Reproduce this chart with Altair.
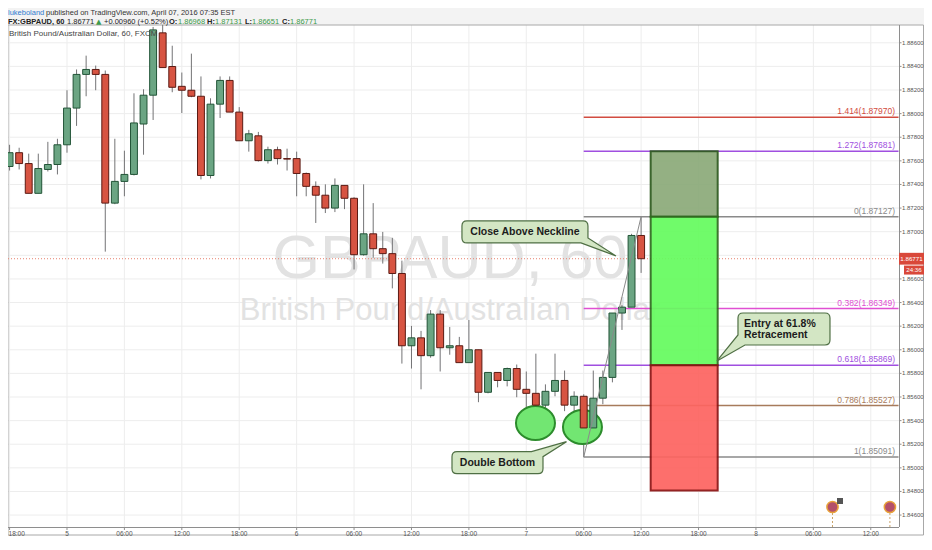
import altair as alt
import pandas as pd

# ---------------- data (hourly candles, index 0 = Apr 4 18:00) ----------------
opens = [1.87552, 1.87669, 1.87577, 1.87325, 1.87527, 1.87569, 1.87736, 1.88047, 1.88332, 1.88374,
         1.88332, 1.87242, 1.87426, 1.87485, 1.87912, 1.88156, 1.88684, 1.88399, 1.88231, 1.88198,
         1.88147, 1.87476, 1.88080, 1.88281, 1.88013, 1.87770, 1.87812, 1.87602, 1.87694, 1.87619,
         1.87619, 1.87493, 1.87384, 1.87309, 1.87200, 1.87392, 1.87283, 1.86805, 1.86982, 1.86856,
         1.86814, 1.86646, 1.86034, 1.86101, 1.85950, 1.86302, 1.86017, 1.86034, 1.85891, 1.86000,
         1.85640, 1.85808, 1.85740, 1.85841, 1.85665, 1.85631, 1.85531, 1.85648, 1.85740, 1.85531,
         1.85606, 1.85338, 1.85590, 1.85766, 1.86311, 1.86361, 1.86968]
highs = [1.87736, 1.87711, 1.87661, 1.87661, 1.87761, 1.87787, 1.88198, 1.88374, 1.88491, 1.88407,
         1.88365, 1.87787, 1.87686, 1.88172, 1.88206, 1.88734, 1.88751, 1.88575, 1.88348, 1.88508,
         1.88315, 1.88130, 1.88315, 1.88315, 1.88055, 1.87862, 1.87845, 1.87720, 1.87720, 1.87703,
         1.87678, 1.87501, 1.87426, 1.87401, 1.87451, 1.87392, 1.87292, 1.87401, 1.87242, 1.86998,
         1.86948, 1.86755, 1.86202, 1.86160, 1.86336, 1.86336, 1.86193, 1.86109, 1.86252, 1.86000,
         1.85808, 1.85808, 1.85849, 1.85875, 1.85816, 1.85967, 1.85707, 1.85967, 1.85824, 1.85648,
         1.85623, 1.85824, 1.85824, 1.86311, 1.86378, 1.86982, 1.87131]
lows = [1.87518, 1.87527, 1.87325, 1.87325, 1.87510, 1.87485, 1.87669, 1.87896, 1.88147, 1.88198,
        1.86831, 1.87233, 1.87300, 1.87476, 1.87652, 1.87946, 1.88390, 1.88181, 1.88005, 1.88139,
        1.87443, 1.87451, 1.87963, 1.88013, 1.87770, 1.87678, 1.87594, 1.87577, 1.87569, 1.87518,
        1.87300, 1.87300, 1.87074, 1.87158, 1.87166, 1.87191, 1.86680, 1.86797, 1.86780, 1.86730,
        1.86520, 1.85883, 1.85841, 1.85665, 1.85933, 1.85816, 1.85958, 1.85891, 1.85891, 1.85556,
        1.85631, 1.85682, 1.85690, 1.85598, 1.85397, 1.85397, 1.85430, 1.85606, 1.85480, 1.85262,
        1.85091, 1.85338, 1.85539, 1.85724, 1.86168, 1.86361, 1.86651]
closes = [1.87669, 1.87577, 1.87325, 1.87535, 1.87569, 1.87736, 1.88047, 1.88332, 1.88374, 1.88332,
          1.87242, 1.87426, 1.87485, 1.87921, 1.88156, 1.88709, 1.88390, 1.88223, 1.88198, 1.88147,
          1.87476, 1.88080, 1.88281, 1.88013, 1.87770, 1.87829, 1.87602, 1.87694, 1.87619, 1.87615,
          1.87493, 1.87384, 1.87309, 1.87200, 1.87392, 1.87283, 1.86805, 1.86982, 1.86856, 1.86814,
          1.86646, 1.86034, 1.86101, 1.85950, 1.86302, 1.86017, 1.86034, 1.85891, 1.86000, 1.85640,
          1.85808, 1.85740, 1.85841, 1.85665, 1.85631, 1.85531, 1.85648, 1.85740, 1.85531, 1.85606,
          1.85338, 1.85590, 1.85766, 1.86311, 1.86361, 1.86968, 1.86771]

tick_labels = ["18:00", "5", "06:00", "12:00", "18:00", "6", "06:00", "12:00",
               "18:00", "7", "06:00", "12:00", "18:00", "8", "06:00", "12:00"]
price_ticks = [1.846, 1.848, 1.850, 1.852, 1.854, 1.856, 1.858, 1.860, 1.862, 1.864,
               1.866, 1.868, 1.870, 1.872, 1.874, 1.876, 1.878, 1.880, 1.882, 1.884, 1.886]

fib_levels = ["1.414", "1.272", "0", "0.382", "0.618", "0.786", "1"]
fib_prices = [1.87970, 1.87681, 1.87127, 1.86349, 1.85869, 1.85527, 1.85091]
fib_colors = ["#d24c40", "#a04fe0", "#8a8a8a", "#e04fd2", "#a04fe0", "#a77b5c", "#8a8a8a"]
fib_start = 60
fib_end = 92.9

trend_i = [60, 66]
trend_p = [1.85091, 1.87127]

zone_top = [1.87681, 1.87127, 1.85869]
zone_bottom = [1.87127, 1.85869, 1.84808]
zone_fill = ["#8cab7a", "#66fb5f", "#fd6561"]
zone_stroke = ["#2d5a1e", "#2f6b1f", "#8c1313"]
zone_start, zone_end = 67, 74

ellipse_i = [54.96, 59.87]
ellipse_p = [1.85380, 1.85346]

callout_text = ["Close Above Neckline", "Entry at 61.8%", "Retracement", "Double Bottom"]
callout_i = [53.86, 80.93, 50.99]
callout_p = [1.86998, 1.86176, 1.85044]

event_i = [86, 92]
last_price = closes[-1]

# ---------------- scales / layout ----------------
W, H = 891, 502
xs = alt.Scale(domain=[-0.165, 92.95], nice=False, zero=False)
ys = alt.Scale(domain=[1.84499, 1.887505], nice=False, zero=False)
FONT = "Liberation Sans"
AX = "#8e8e8e"

one = pd.DataFrame({"k": [0]})
cd = pd.DataFrame({"i": list(range(len(opens))), "o": opens, "h": highs, "l": lows, "c": closes})
up = "datum.c >= datum.o"


def X(f):
    return alt.X(f, scale=xs, axis=None)


def Y(f):
    return alt.Y(f, scale=ys, axis=None)


def ptext(txt, x, y, **kw):
    kw.setdefault("font", FONT)
    kw.setdefault("align", "left")
    kw.setdefault("baseline", "middle")
    return alt.Chart(one).mark_text(text=txt, **kw).encode(x=alt.value(x), y=alt.value(y))


def prect(x, x2, y, y2, **kw):
    return alt.Chart(one).mark_rect(**kw).encode(
        x=alt.value(x), x2=alt.value(x2), y=alt.value(y), y2=alt.value(y2))


# ---------------- grid + axes drawn through the scales ----------------
xt = pd.DataFrame({"t": [6 * k for k in range(len(tick_labels))], "lab": tick_labels})
yt = pd.DataFrame({"p": price_ticks, "lab": [f"{p:.5f}" for p in price_ticks]})

vgrid = alt.Chart(xt).mark_rule(color="#ededed", strokeWidth=1).encode(
    x=X("t:Q"), y=alt.value(0), y2=alt.value(H))
hgrid = alt.Chart(yt).mark_rule(color="#ededed", strokeWidth=1).encode(
    y=Y("p:Q"), x=alt.value(0), x2=alt.value(W))

x_dom = alt.Chart(one).mark_rule(color=AX, strokeWidth=1).encode(
    x=alt.value(0), x2=alt.value(W), y=alt.value(H + 0.5))
y_dom = alt.Chart(one).mark_rule(color=AX, strokeWidth=1).encode(
    x=alt.value(W + 0.5), y=alt.value(0), y2=alt.value(H))
x_ticks = alt.Chart(xt).mark_rule(color=AX, strokeWidth=1).encode(
    x=X("t:Q"), y=alt.value(H), y2=alt.value(H + 3))
y_ticks = alt.Chart(yt).mark_rule(color=AX, strokeWidth=1).encode(
    y=Y("p:Q"), x=alt.value(W), x2=alt.value(W + 2.5))
xl_style = dict(font=FONT, fontSize=6.5, color="#555555", baseline="middle")
x_labels = alt.Chart(xt).transform_filter("datum.t > 0").mark_text(
    align="center", **xl_style).encode(x=X("t:Q"), y=alt.value(H + 6.5), text="lab:N")
x_label0 = alt.Chart(xt).transform_filter("datum.t == 0").mark_text(
    align="left", dx=-1, **xl_style).encode(x=X("t:Q"), y=alt.value(H + 6.5), text="lab:N")
y_labels = alt.Chart(yt).transform_filter(
    f"abs(datum.p - {last_price}) > 0.0012"
).mark_text(font=FONT, fontSize=6, color="#555555", align="left", baseline="middle").encode(
    y=Y("p:Q"), x=alt.value(W + 3), text="lab:N")

# bands outside the chart frame
band = prect(-2, 920, -20, 0, fill="#f3f3f3")
frame = prect(0, 915.5, 0, 510, fill="transparent", stroke="#a8a8a8", strokeWidth=1)

# watermark
wm1 = ptext("GBPAUD, 60", 442, 253, align="center", baseline="alphabetic", fontSize=61,
            color="#e2e2e2")
wm2 = ptext("British Pound/Australian Dollar", 442, 295, align="center", baseline="alphabetic",
            fontSize=31, color="#e2e2e2")

wicks = alt.Chart(cd).mark_rule(color="#737375", strokeWidth=1).encode(
    x=X("i:Q"), y=Y("h:Q"), y2="l:Q")

bodies = alt.Chart(cd).transform_calculate(
    xl="datum.i - 0.36", xr="datum.i + 0.36"
).mark_rect(strokeWidth=1).encode(
    x=X("xl:Q"), x2="xr:Q", y=Y("o:Q"), y2="c:Q",
    fill=alt.condition(up, alt.value("#6ba583"), alt.value("#d75442")),
    stroke=alt.condition(up, alt.value("#225437"), alt.value("#5b1a13")))

# current price dotted line
price_line = alt.Chart(pd.DataFrame({"p": [last_price]})).mark_rule(
    color="#e8826f", strokeDash=[1, 2], strokeWidth=1).encode(
    x=alt.value(0), x2=alt.value(W), y=Y("p:Q"))

# fibonacci
fd = pd.DataFrame({"lvl": fib_levels, "p": fib_prices, "col": fib_colors})
fd["s"] = fib_start
fd["e"] = fib_end
fd["lab"] = [f"{a}({b:.5f})" for a, b in zip(fib_levels, fib_prices)]
fib_lines = alt.Chart(fd).mark_rule(strokeWidth=1.5).encode(
    x=X("s:Q"), x2="e:Q", y=Y("p:Q"), color=alt.Color("col:N", scale=None))
fib_labels = alt.Chart(fd).mark_text(align="right", baseline="bottom", dy=-1, fontSize=8.5,
                                     font=FONT).encode(
    x=alt.value(887), y=Y("p:Q"), text="lab:N", color=alt.Color("col:N", scale=None))

trend = alt.Chart(pd.DataFrame({"i": trend_i, "p": trend_p})).mark_line(
    color="#8a8a8a", strokeWidth=1).encode(x=X("i:Q"), y=Y("p:Q"))

zd = pd.DataFrame({"t": zone_top, "b": zone_bottom, "f": zone_fill, "s": zone_stroke})
zd["x0"] = zone_start
zd["x1"] = zone_end
zones = alt.Chart(zd).mark_rect(strokeWidth=2, opacity=0.93).encode(
    x=X("x0:Q"), x2="x1:Q", y=Y("t:Q"), y2="b:Q",
    fill=alt.Color("f:N", scale=None), stroke=alt.Color("s:N", scale=None))

ELLIPSE = "M -19.5 0 A 19.5 17 0 1 0 19.5 0 A 19.5 17 0 1 0 -19.5 0 Z"
ellipses = alt.Chart(pd.DataFrame({"i": ellipse_i, "p": ellipse_p})).mark_point(
    shape=ELLIPSE, size=4, filled=True, fill="#72e672", stroke="#2c8c2c", strokeWidth=2,
    opacity=1).encode(x=X("i:Q"), y=Y("p:Q"))

CALLOUT_PATHS = [
    "M -58 -11 L 58 -11 Q 63 -11 63 -6 L 63 6 L 91 24 L 56 11 L -58 11 Q -63 11 -63 6 "
    "L -63 -6 Q -63 -11 -58 -11 Z",
    "M -41 -16 L 41 -16 Q 46 -16 46 -11 L 46 11 Q 46 16 41 16 L -39 16 L -67 32 L -46 6 "
    "L -46 -11 Q -46 -16 -41 -16 Z",
    "M -40.5 -11 L 34 -11 L 69 -21 L 45.5 -6 L 45.5 6 Q 45.5 11 40.5 11 L -40.5 11 "
    "Q -45.5 11 -45.5 6 L -45.5 -6 Q -45.5 -11 -40.5 -11 Z",
]
callouts = []
for k, path in enumerate(CALLOUT_PATHS):
    d = pd.DataFrame({"i": [callout_i[k]], "p": [callout_p[k]]})
    enc = dict(x=X("i:Q"), y=Y("p:Q"))
    callouts.append(alt.Chart(d).mark_point(
        shape=path, size=4, filled=True, fill="#d3e6c4", stroke="#4f6f44", strokeWidth=1.2,
        opacity=1).encode(**enc))
    tstyle = dict(font=FONT, fontSize=10.5, fontWeight="bold", color="#1c1c1c", baseline="middle")
    if k == 1:
        callouts.append(alt.Chart(d).mark_text(text=callout_text[1], align="left", dx=-40, dy=-5,
                                               **tstyle).encode(**enc))
        callouts.append(alt.Chart(d).mark_text(text=callout_text[2], align="left", dx=-40, dy=6,
                                               **tstyle).encode(**enc))
    else:
        txt = callout_text[0] if k == 0 else callout_text[3]
        callouts.append(alt.Chart(d).mark_text(text=txt, align="center", **tstyle).encode(**enc))

# events at bottom
ev = pd.DataFrame({"i": event_i})
ev_lines = alt.Chart(ev).mark_rule(color="#c9a36a", strokeDash=[2, 2], strokeWidth=1).encode(
    x=X("i:Q"), y=alt.value(488), y2=alt.value(H))
ev_pts = alt.Chart(ev).mark_point(shape="circle", size=125, filled=True, fill="#b4506a",
                                  stroke="#e8a23a", strokeWidth=1.5, opacity=1).encode(
    x=X("i:Q"), y=alt.value(482))
ev_tag = prect(829, 835, 473, 479, fill="#555555")

# current price boxes on axis
pb = pd.DataFrame({"p": [last_price]})
pb["lo"] = pb["p"] - 0.0005
pb["hi"] = pb["p"] + 0.0005
pb["lo2"] = pb["p"] - 0.00134
pb["hi2"] = pb["p"] - 0.00058
pb["mid2"] = pb["p"] - 0.00096
pb["lab"] = [f"{last_price:.5f}"]
box1 = alt.Chart(pb).mark_rect(fill="#d9483a").encode(
    x=alt.value(W), x2=alt.value(916), y=Y("lo:Q"), y2="hi:Q")
box1t = alt.Chart(pb).mark_text(font=FONT, fontSize=6.2, color="#ffffff", align="center",
                                baseline="middle").encode(
    x=alt.value(903.5), y=Y("p:Q"), text="lab:N")
box2 = alt.Chart(pb).mark_rect(fill="#d9483a").encode(
    x=alt.value(896), x2=alt.value(916), y=Y("lo2:Q"), y2="hi2:Q")
box2t = alt.Chart(pb).mark_text(text="24:36", font=FONT, fontSize=6.2, color="#ffffff",
                                align="center", baseline="middle").encode(
    x=alt.value(906), y=Y("mid2:Q"))

# header & legend
G = "#3d9a4a"
L1, L2 = -12, -3.5
header = [
    ptext("lukeboland", 0, L1, fontSize=7.5, color="#2f7bd0"),
    ptext("published on TradingView.com, April 07, 2016 07:35 EST", 38, L1, fontSize=7.5,
          color="#333333"),
    ptext("FX:GBPAUD, 60", 0, L2, fontSize=7.5, fontWeight="bold", color="#222222"),
    ptext("1.86771", 59, L2, fontSize=7.5, color="#222222"),
    ptext("▲", 88, L2, fontSize=7, color=G, font="DejaVu Sans"),
    ptext("+0.00960 (+0.52%)", 96, L2, fontSize=7.5, color="#222222"),
    ptext("O:", 161, L2, fontSize=7.5, fontWeight="bold", color="#222222"),
    ptext("1.86968", 170, L2, fontSize=7.5, color=G),
    ptext("H:", 199, L2, fontSize=7.5, fontWeight="bold", color="#222222"),
    ptext("1.87131", 207, L2, fontSize=7.5, color=G),
    ptext("L:", 237, L2, fontSize=7.5, fontWeight="bold", color="#222222"),
    ptext("1.86651", 244, L2, fontSize=7.5, color=G),
    ptext("C:", 274, L2, fontSize=7.5, fontWeight="bold", color="#222222"),
    ptext("1.86771", 282, L2, fontSize=7.5, color=G),
    ptext("British Pound/Australian Dollar, 60, FXCM", 1, 9, fontSize=8, color="#444444"),
]

chart = alt.layer(
    vgrid, hgrid, band, frame, wm1, wm2, wicks, price_line, fib_lines, fib_labels, zones,
    ellipses, bodies, trend, *callouts, ev_lines, ev_pts, ev_tag,
    x_dom, y_dom, x_ticks, y_ticks, x_labels, x_label0, y_labels,
    box1, box1t, box2, box2t, *header
).properties(
    width=W, height=H,
    autosize=alt.AutoSizeParams(type="none"),
    padding={"left": 0, "top": 17, "right": 25, "bottom": 9},
    background="#ffffff",
).configure_view(stroke="transparent")

chart.save("out.html", embed_options={"renderer": "svg", "actions": False})
